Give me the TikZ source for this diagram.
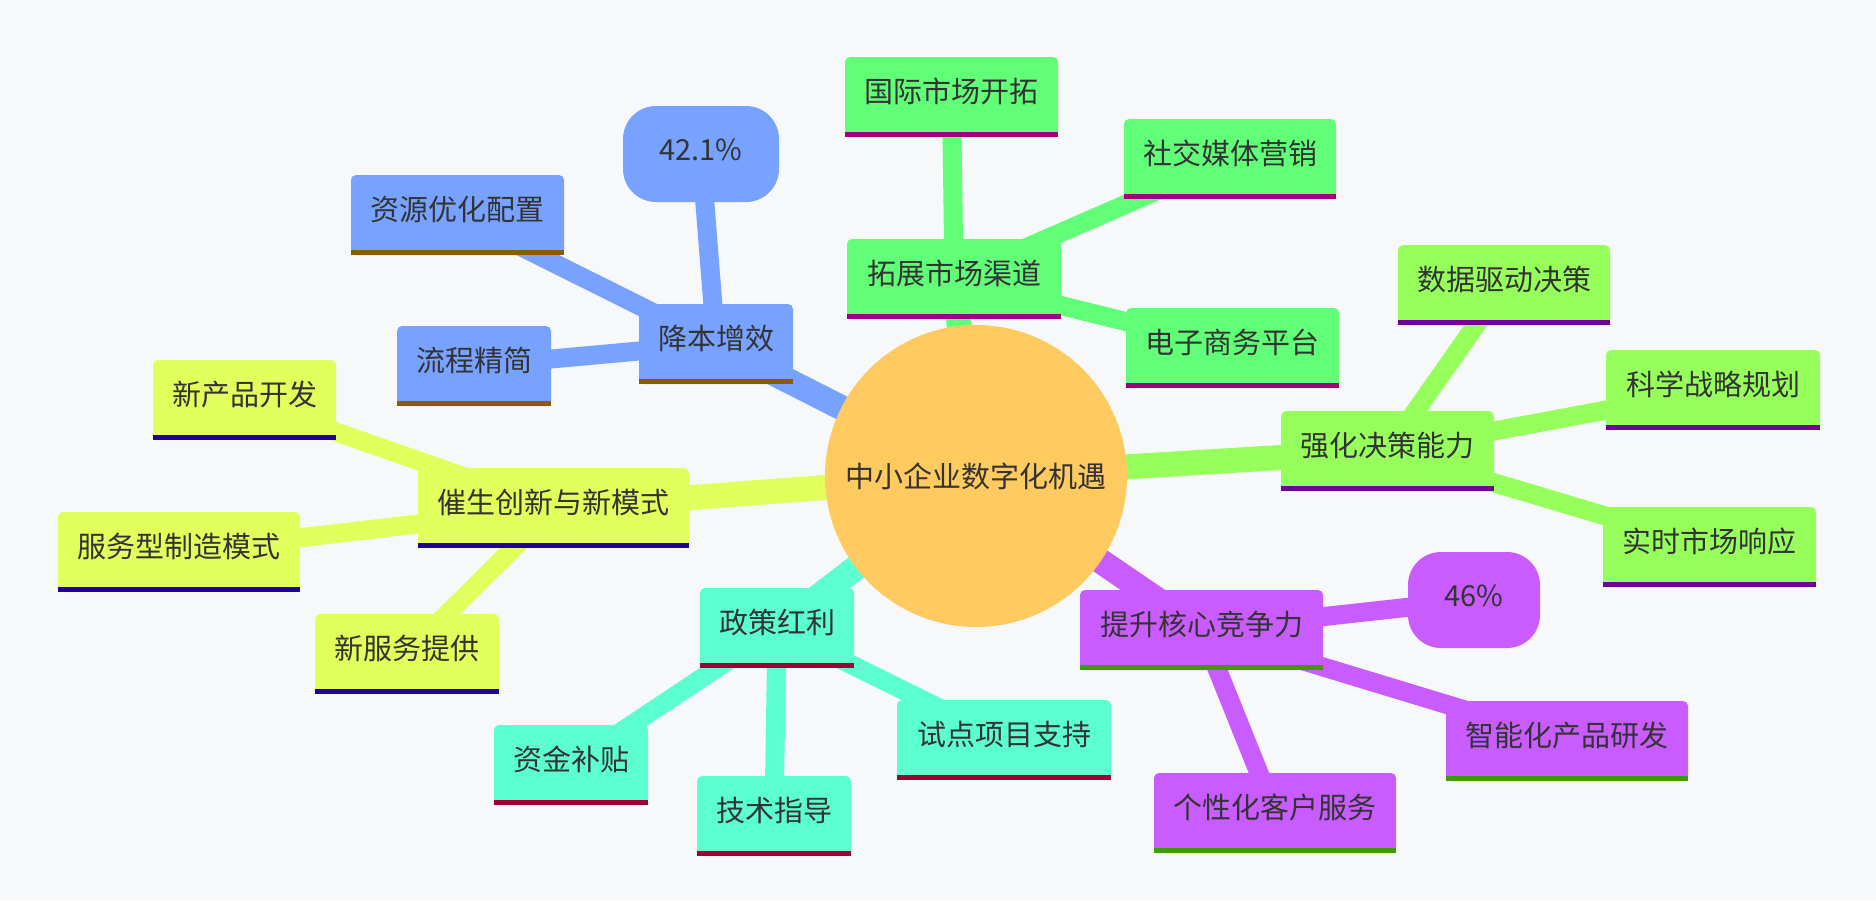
\documentclass[tikz,border=0pt]{standalone}
\usepackage{fontspec}
\setmainfont{Noto Sans CJK SC}
\usetikzlibrary{calc}
\definecolor{bgc}{HTML}{F7F8FA}
\definecolor{rootc}{HTML}{FFCA60}
\definecolor{txtc}{HTML}{333333}
\definecolor{blueF}{HTML}{78A2FF}
\definecolor{blueS}{HTML}{8A5C00}
\definecolor{greenF}{HTML}{61FF78}
\definecolor{greenS}{HTML}{A3007E}
\definecolor{limeF}{HTML}{96FF5C}
\definecolor{limeS}{HTML}{6F0099}
\definecolor{purpF}{HTML}{C95CFF}
\definecolor{purpS}{HTML}{3A9E00}
\definecolor{aquaF}{HTML}{5CFFCF}
\definecolor{aquaS}{HTML}{A10033}
\definecolor{yelF}{HTML}{E2FF5C}
\definecolor{yelS}{HTML}{1F0099}
\pgfdeclarelayer{bgl}
\pgfdeclarelayer{edgel}
\pgfsetlayers{bgl,edgel,main}
\newcommand\mmstripe[2]{\fill[#2] (#1.south west) rectangle ($(#1.south east)+(0,-5.5)$);}
\tikzset{
  mmfont/.style={font=\fontsize{29}{35}\selectfont, text=txtc},
  box/.style={mmfont, rectangle, rounded corners=5pt, minimum height=80pt, inner sep=0pt, text height=25pt, text depth=14pt},
  pill/.style={mmfont, rectangle, rounded corners=33pt, minimum height=96pt, inner sep=0pt, text height=25pt, text depth=12pt},
  rootn/.style={mmfont, circle, fill=rootc, minimum size=302pt, inner sep=0pt, text height=25pt, text depth=3pt},
  edge0/.style={line width=25pt},
  edge1/.style={line width=19pt},
}
\begin{document}
\begin{tikzpicture}[x=1pt,y=-1pt]
\begin{pgfonlayer}{bgl}
\fill[bgc] (0,0) rectangle (1876,900);
\end{pgfonlayer}
\useasboundingbox (0,0) rectangle (1876,900);
% root
\node[rootn] (root) at (976,476) {中小企业数字化机遇};
% blue section
\node[box, fill=blueF, minimum width=154pt] (A) at (716,344) {降本增效};
\node[pill, fill=blueF, minimum width=156pt] (A1) at (701,154) {42.1\%};
\node[box, fill=blueF, minimum width=213pt] (A2) at (457.5,215) {资源优化配置};
\node[box, fill=blueF, minimum width=154pt] (A3) at (474,366) {流程精简};
% green section
\node[box, fill=greenF, minimum width=214pt] (B) at (954,279) {拓展市场渠道};
\node[box, fill=greenF, minimum width=213pt] (B1) at (951.5,97) {国际市场开拓};
\node[box, fill=greenF, minimum width=212pt] (B2) at (1230,159) {社交媒体营销};
\node[box, fill=greenF, minimum width=213pt] (B3) at (1232.5,348) {电子商务平台};
% lime section
\node[box, fill=limeF, minimum width=213pt] (C) at (1387.5,451) {强化决策能力};
\node[box, fill=limeF, minimum width=212pt] (C1) at (1504,285) {数据驱动决策};
\node[box, fill=limeF, minimum width=214pt] (C2) at (1713,390) {科学战略规划};
\node[box, fill=limeF, minimum width=213pt] (C3) at (1709.5,547) {实时市场响应};
% purple section
\node[box, fill=purpF, minimum width=243pt] (D) at (1201.5,630) {提升核心竞争力};
\node[pill, fill=purpF, minimum width=132pt] (D1) at (1474,600) {46\%};
\node[box, fill=purpF, minimum width=242pt] (D2) at (1567,741) {智能化产品研发};
\node[box, fill=purpF, minimum width=242pt] (D3) at (1275,813) {个性化客户服务};
% aqua section
\node[box, fill=aquaF, minimum width=154pt] (E) at (777,628) {政策红利};
\node[box, fill=aquaF, minimum width=154pt] (E1) at (571,765) {资金补贴};
\node[box, fill=aquaF, minimum width=154pt] (E2) at (774,816) {技术指导};
\node[box, fill=aquaF, minimum width=214pt] (E3) at (1004,740) {试点项目支持};
% yellow section
\node[box, fill=yelF, minimum width=271pt] (F) at (553.5,508) {催生创新与新模式};
\node[box, fill=yelF, minimum width=183pt] (F1) at (244.5,400) {新产品开发};
\node[box, fill=yelF, minimum width=242pt] (F2) at (179,552) {服务型制造模式};
\node[box, fill=yelF, minimum width=184pt] (F3) at (407,654) {新服务提供};
% stripes
\mmstripe{A}{blueS}\mmstripe{A2}{blueS}\mmstripe{A3}{blueS}
\mmstripe{B}{greenS}\mmstripe{B1}{greenS}\mmstripe{B2}{greenS}\mmstripe{B3}{greenS}
\mmstripe{C}{limeS}\mmstripe{C1}{limeS}\mmstripe{C2}{limeS}\mmstripe{C3}{limeS}
\mmstripe{D}{purpS}\mmstripe{D2}{purpS}\mmstripe{D3}{purpS}
\mmstripe{E}{aquaS}\mmstripe{E1}{aquaS}\mmstripe{E2}{aquaS}\mmstripe{E3}{aquaS}
\mmstripe{F}{yelS}\mmstripe{F1}{yelS}\mmstripe{F2}{yelS}\mmstripe{F3}{yelS}
% edges
\begin{pgfonlayer}{edgel}
\draw[edge0, blueF] (root.center) -- (A.center);
\draw[edge1, blueF] (A.center) -- (A1.center);
\draw[edge1, blueF] (A.center) -- (A2.center);
\draw[edge1, blueF] (A.center) -- (A3.center);
\draw[edge0, greenF] (root.center) -- (B.center);
\draw[edge1, greenF] (B.center) -- (B1.center);
\draw[edge1, greenF] (B.center) -- (B2.center);
\draw[edge1, greenF] (B.center) -- (B3.center);
\draw[edge0, limeF] (root.center) -- (C.center);
\draw[edge1, limeF] (C.center) -- (C1.center);
\draw[edge1, limeF] (C.center) -- (C2.center);
\draw[edge1, limeF] (C.center) -- (C3.center);
\draw[edge0, purpF] (root.center) -- (D.center);
\draw[edge1, purpF] (D.center) -- (D1.center);
\draw[edge1, purpF] (D.center) -- (D2.center);
\draw[edge1, purpF] (D.center) -- (D3.center);
\draw[edge0, aquaF] (root.center) -- (E.center);
\draw[edge1, aquaF] (E.center) -- (E1.center);
\draw[edge1, aquaF] (E.center) -- (E2.center);
\draw[edge1, aquaF] (E.center) -- (E3.center);
\draw[edge0, yelF] (root.center) -- (F.center);
\draw[edge1, yelF] (F.center) -- (F1.center);
\draw[edge1, yelF] (F.center) -- (F2.center);
\draw[edge1, yelF] (F.center) -- (F3.center);
\end{pgfonlayer}
\end{tikzpicture}
\end{document}
